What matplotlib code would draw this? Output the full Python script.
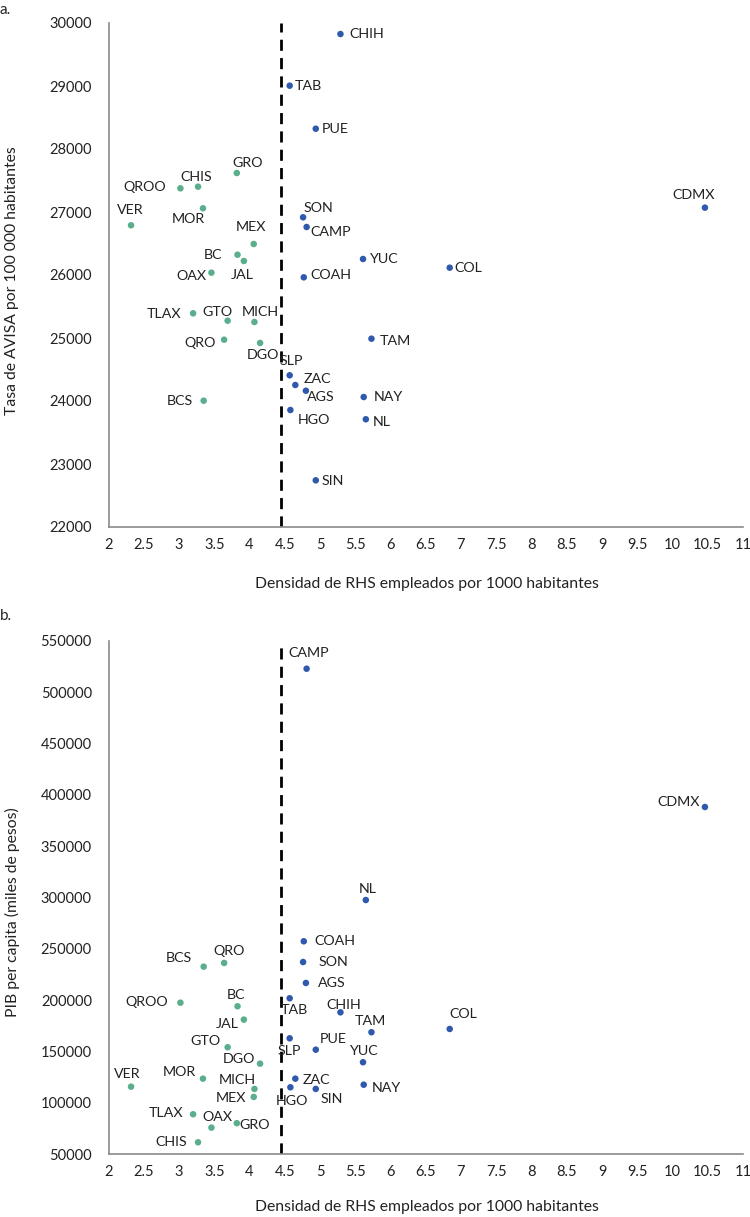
import matplotlib
matplotlib.use("Agg")
import matplotlib.pyplot as plt

plt.rcParams['font.family'] = ['Lato', 'DejaVu Sans']

states = ["AGS", "BC", "BCS", "CAMP", "CHIS", "CHIH", "CDMX", "COAH", "COL", "DGO",
          "GTO", "GRO", "HGO", "JAL", "MEX", "MICH", "MOR", "NAY", "NL", "OAX",
          "PUE", "QRO", "QROO", "SLP", "SIN", "SON", "TAB", "TAM", "TLAX", "VER",
          "YUC", "ZAC"]
density = [4.80, 3.83, 3.35, 4.81, 3.27, 5.29, 10.46, 4.77, 6.84, 4.15,
           3.69, 3.82, 4.58, 3.92, 4.06, 4.07, 3.34, 5.62, 5.65, 3.46,
           4.94, 3.64, 3.02, 4.57, 4.94, 4.76, 4.57, 5.73, 3.20, 2.32,
           5.61, 4.65]
avisa = [24163, 26322, 24005, 26762, 27402, 29825, 27069, 25963, 26116, 24921,
         25275, 27619, 23857, 26222, 26492, 25254, 27059, 24063, 23710, 26037,
         28322, 24973, 27376, 24408, 22741, 26916, 29005, 24989, 25392, 26789,
         26254, 24254]
pib = [216600, 193900, 232500, 522700, 61400, 188000, 388000, 257200, 171800, 138000,
       154000, 80000, 115000, 180900, 105600, 113400, 123400, 117500, 297400, 75700,
       151600, 236100, 197400, 162700, 113400, 237000, 201700, 168600, 88700, 115600,
       139400, 123400]
mean_density = 4.45
x_ticks = [2, 2.5, 3, 3.5, 4, 4.5, 5, 5.5, 6, 6.5, 7, 7.5, 8, 8.5, 9, 9.5, 10, 10.5, 11]
y_ticks_a = list(range(22000, 30001, 1000))
y_ticks_b = list(range(50000, 550001, 50000))

# label offsets in pixels (dx, dy with dy positive = up)
off_a = {"CHIH": (26, 0), "TAB": (19, 0), "PUE": (19, 0), "GRO": (11, 10), "CHIS": (-2, 10),
         "QROO": (-36, 1), "MOR": (-15, -11), "VER": (-1, 15), "MEX": (-3, 17), "BC": (-25, 0),
         "JAL": (-2, -14), "OAX": (-20, -3), "SON": (15, 9), "CAMP": (24, -5), "YUC": (21, 0),
         "COAH": (27, 2), "COL": (19, 0), "CDMX": (-11, 13), "TLAX": (-29, -1), "GTO": (-10, 9),
         "MICH": (6, 10), "QRO": (-24, -3), "DGO": (3, -12), "SLP": (2, 14), "ZAC": (22, 6),
         "AGS": (15, -6), "HGO": (24, -10), "SIN": (17, -1), "NAY": (25, 0), "NL": (16, -3),
         "TAM": (24, -2), "BCS": (-24, 0)}
off_b = {"CAMP": (2, 16), "CDMX": (-26, 5), "NL": (2, 11), "COAH": (31, 0), "SON": (30, 0),
         "AGS": (26, 0), "TAB": (5, -12), "CHIH": (3, 7), "SLP": (0, -13), "PUE": (17, 11),
         "ZAC": (21, -1), "HGO": (2, -14), "SIN": (16, -10), "BCS": (-25, 9), "QRO": (5, 12),
         "QROO": (-34, 1), "BC": (-2, 11), "JAL": (-17, -4), "GTO": (-22, 6), "DGO": (-21, 5),
         "VER": (-4, 13), "MOR": (-24, 7), "MICH": (-17, 9), "MEX": (-23, -1), "TLAX": (-27, 1),
         "GRO": (18, -2), "OAX": (6, 11), "CHIS": (-27, 0), "COL": (14, 15), "TAM": (-1, 11),
         "YUC": (1, 11), "NAY": (23, -3)}

GREEN = "#5BAE8B"
BLUE = "#2F59AC"
TXT = "#222222"

fig = plt.figure(figsize=(7.5, 12.17), dpi=100)
W, H = 750, 1217


def make_axes(rect_px):
    l, t, r, b = rect_px
    return fig.add_axes([l / W, 1 - b / H, (r - l) / W, (b - t) / H])


def draw(ax, yvals, offs, yticks):
    colors = [GREEN if d < mean_density else BLUE for d in density]
    ax.scatter(density, yvals, s=22, c=colors, zorder=3, linewidths=0)
    ax.axvline(mean_density, color="black", lw=2, ls=(0, (4, 2.6)), zorder=2)
    for s, x, y in zip(states, density, yvals):
        dx, dy = offs[s]
        ax.annotate(s, (x, y), xytext=(dx, dy), textcoords="offset pixels",
                    ha="center", va="center", fontsize=10.3, color=TXT)
    ax.set_xlim(2, 11)
    ax.set_ylim(yticks[0], yticks[-1])
    ax.set_xticks(x_ticks)
    ax.set_xticklabels([f"{v:g}" for v in x_ticks])
    ax.set_yticks(yticks)
    ax.set_yticklabels([str(v) for v in yticks])
    for sp in ("top", "right"):
        ax.spines[sp].set_visible(False)
    for sp in ("left", "bottom"):
        ax.spines[sp].set_color("#8a8a8a")
        ax.spines[sp].set_linewidth(1.2)
    ax.tick_params(axis="both", length=0, labelsize=10.5, colors=TXT)
    ax.tick_params(axis="y", pad=12)
    ax.tick_params(axis="x", pad=8)


ax1 = make_axes((108.5, 23, 743, 527))
draw(ax1, avisa, off_a, y_ticks_a)
ax2 = make_axes((108.5, 640.7, 743, 1154))
draw(ax2, pib, off_b, y_ticks_b)

fig.text(0.0, 1 - 10 / H, "a.", fontsize=11, color=TXT, ha="left", va="center")
fig.text(0.0, 1 - 616 / H, "b.", fontsize=11, color=TXT, ha="left", va="center")
fig.text(12 / W, 1 - 281 / H, "Tasa de AVISA por 100 000 habitantes", rotation=90,
         fontsize=11.3, color=TXT, ha="center", va="center")
fig.text(12 / W, 1 - 912 / H, "PIB per capita (miles de pesos)", rotation=90,
         fontsize=11.3, color=TXT, ha="center", va="center")
fig.text(427 / W, 1 - 584 / H, "Densidad de RHS empleados por 1000 habitantes",
         fontsize=11.3, color=TXT, ha="center", va="center")
fig.text(427 / W, 1 - 1207 / H, "Densidad de RHS empleados por 1000 habitantes",
         fontsize=11.3, color=TXT, ha="center", va="center")

fig.savefig("out.png", dpi=100)
